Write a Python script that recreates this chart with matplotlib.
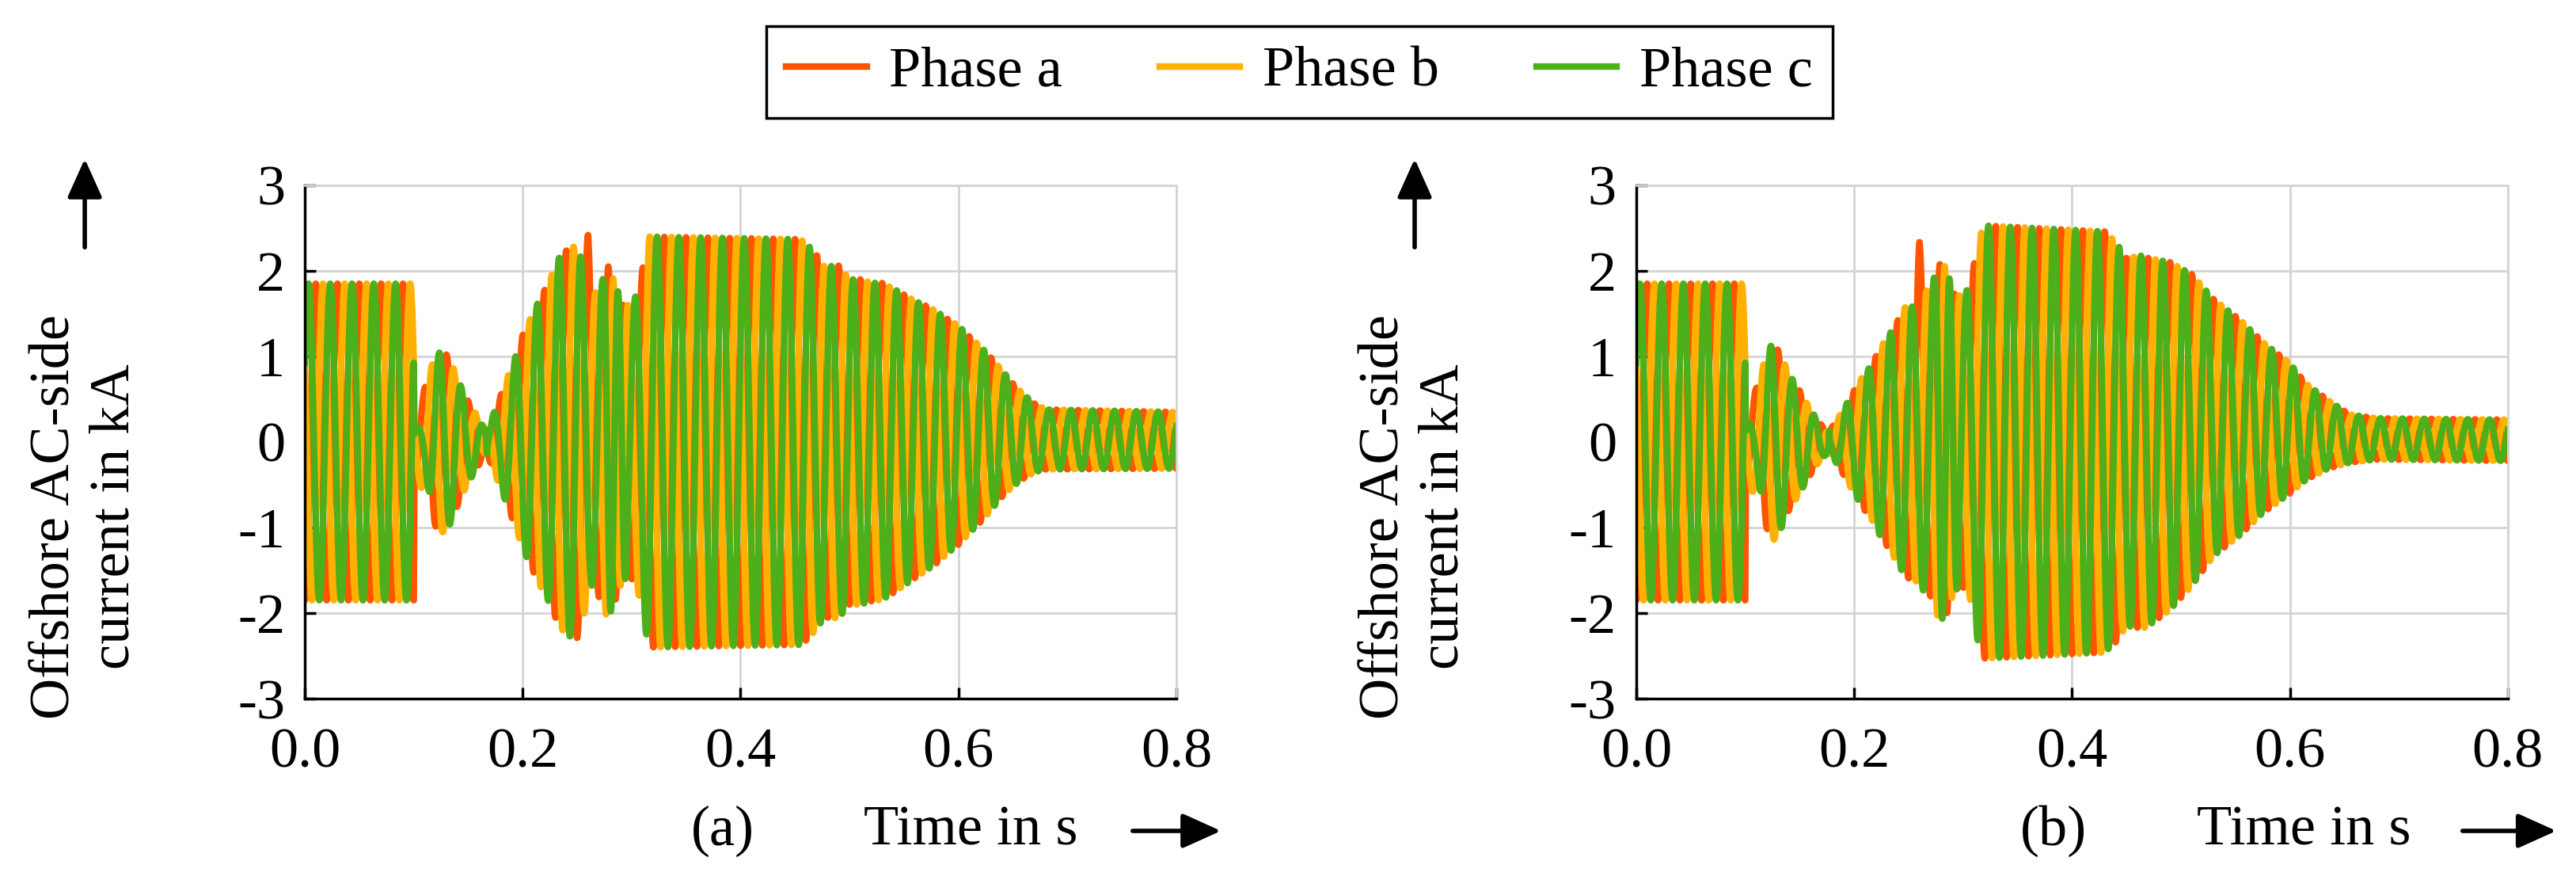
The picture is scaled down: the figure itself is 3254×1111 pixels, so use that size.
import numpy as np
import matplotlib
matplotlib.use("Agg")
import matplotlib.pyplot as plt

plt.rcParams['font.family'] = ['Liberation Serif', 'DejaVu Serif']
plt.rcParams['font.size'] = 52

F = 50.0  # grid frequency, Hz
labels = ['Phase a', 'Phase b', 'Phase c']
colors = ['#FF5500', '#FFB000', '#4DAF1A']
yticks = [3, 2, 1, 0, -1, -2, -3]
xticks = [0.0, 0.2, 0.4, 0.6, 0.8]

# envelope (peak amplitude in kA)
a_t = [0.0, 0.1, 0.1005, 0.108, 0.118, 0.125, 0.132, 0.14, 0.148, 0.156, 0.1665,
       0.177, 0.186, 0.195, 0.2, 0.214, 0.224, 0.234, 0.243, 0.25, 0.255, 0.262,
       0.272, 0.278, 0.285, 0.292, 0.3, 0.307, 0.311, 0.316, 0.455, 0.462, 0.47,
       0.477, 0.49, 0.5, 0.51, 0.52, 0.53, 0.54, 0.55, 0.56, 0.57, 0.58, 0.59,
       0.6, 0.61, 0.62, 0.63, 0.64, 0.65, 0.66, 0.67, 0.68, 0.8]
a_amp = [1.85, 1.85, 0.45, 0.55, 0.95, 1.07, 1.0, 0.75, 0.52, 0.35, 0.12,
         0.45, 0.75, 1.05, 1.25, 1.63, 1.87, 2.17, 2.27, 2.29, 2.1, 1.65,
         1.85, 2.07, 1.85, 1.6, 1.6, 1.8, 2.1, 2.4, 2.37, 2.3, 2.18,
         2.05, 2.06, 1.9, 1.9, 1.86, 1.85, 1.78, 1.7, 1.62, 1.55, 1.47, 1.37,
         1.28, 1.15, 1.03, 0.89, 0.74, 0.6, 0.49, 0.4, 0.35, 0.33]
a_ph_t = [0.0, 0.1665, 0.1675, 0.276, 0.296, 0.8]
a_ph_deg = [0, 0, 180, 180, 360, 360]
a_off_t = [0.0, 0.52, 0.56, 0.6, 0.64, 0.68, 0.8]
a_off = [0.0, 0.0, 0.03, 0.08, 0.1, 0.03, 0.02]
a_red_t = [0.253, 0.26, 0.266]
a_red = [0.0, 0.64, 0.0]
a_green_t = [0.1, 0.1005, 0.108, 0.116, 0.122]
a_green = [0.0, -0.3, -0.35, -0.15, 0.0]

# envelope
b_t = [0.0, 0.1, 0.1005, 0.11, 0.118, 0.125, 0.132, 0.14, 0.15, 0.158, 0.165,
       0.17, 0.1765, 0.184, 0.192, 0.2, 0.208, 0.216, 0.224, 0.232, 0.24, 0.248,
       0.254, 0.262, 0.27, 0.278, 0.284, 0.292, 0.3, 0.307, 0.313, 0.319, 0.43,
       0.44, 0.45, 0.465, 0.49, 0.51, 0.53, 0.555, 0.575, 0.6, 0.615, 0.635,
       0.655, 0.68, 0.8]
b_amp = [1.85, 1.85, 0.5, 0.62, 0.95, 1.17, 1.04, 0.8, 0.6, 0.42, 0.28,
         0.2, 0.12, 0.25, 0.42, 0.6, 0.77, 0.9, 1.1, 1.25, 1.42, 1.6,
         1.58, 1.72, 1.8, 2.08, 2.05, 1.73, 1.7, 1.85, 2.3, 2.53, 2.46,
         2.34, 2.15, 2.18, 2.03, 1.82, 1.5, 1.25, 1.0, 0.76, 0.56, 0.4,
         0.28, 0.24, 0.24]
b_ph_t = [0.0, 0.1765, 0.1775, 0.276, 0.296, 0.8]
b_ph_deg = [0, 0, 180, 180, 360, 360]
b_off_t = [0.0, 0.47, 0.51, 0.53, 0.575, 0.6, 0.615, 0.635, 0.655, 0.8]
b_off = [0.0, 0.0, 0.14, 0.17, 0.17, 0.16, 0.12, 0.09, 0.04, 0.02]
b_red_t = [0.253, 0.26, 0.266]
b_red = [0.0, 0.65, 0.0]
b_green_t = [0.1, 0.1005, 0.108, 0.116, 0.122]
b_green = [0.0, -0.3, -0.35, -0.15, 0.0]

t = np.linspace(0, 0.8, 8001)


def phases(env_t, env, ph_t, ph_deg, off_t, off, red_t, red, green_t, green):
    amp = np.interp(t, env_t, env)
    shift = np.deg2rad(np.interp(t, ph_t, ph_deg))
    dc = np.interp(t, off_t, off)
    w = 2 * np.pi * F * t + shift - np.pi / 2
    ia = (amp + np.interp(t, red_t, red, left=0, right=0)) * np.sin(w) + dc
    ib = amp * np.sin(w - 2 * np.pi / 3) + dc
    ic = (amp + np.interp(t, green_t, green, left=0, right=0)) * np.sin(w + 2 * np.pi / 3) + dc
    return [ia, ib, ic]


fig = plt.figure(figsize=(32.55, 11.11), dpi=100)
ax_a = fig.add_axes([0.1183, 0.2061, 0.3382, 0.5833])
ax_b = fig.add_axes([0.635, 0.2061, 0.3382, 0.5833])

panels = [
    (ax_a, phases(a_t, a_amp, a_ph_t, a_ph_deg, a_off_t, a_off, a_red_t, a_red, a_green_t, a_green), '(a)', 0.2805, 0.3767, 0.4387, 0.4747, 0.0329),
    (ax_b, phases(b_t, b_amp, b_ph_t, b_ph_deg, b_off_t, b_off, b_red_t, b_red, b_green_t, b_green), '(b)', 0.797, 0.894, 0.9548, 0.9929, 0.549),
]

for ax, sig, tag, tag_x, xl_x, ar0, ar1, yl_x in panels:
    for s, c, lab in zip(sig, colors, labels):
        ax.plot(t, s, color=c, lw=6, label=lab, solid_joinstyle='round')
    ax.set_xlim(0, 0.8)
    ax.set_ylim(-3, 3)
    ax.set_xticks(xticks)
    ax.set_xticklabels(['%.1f' % v for v in xticks])
    ax.set_yticks(yticks)
    ax.set_yticklabels([str(v) for v in yticks])
    ax.grid(True, color='#d4d4d4', lw=2)
    ax.set_axisbelow(True)
    for side in ['top', 'right']:
        ax.spines[side].set_color('#d4d4d4')
        ax.spines[side].set_linewidth(2)
    for side in ['left', 'bottom']:
        ax.spines[side].set_linewidth(2.5)
    ax.tick_params(axis='both', direction='in', length=10, width=2.5)
    ax.tick_params(axis='x', pad=26)
    ax.tick_params(axis='y', pad=18)

    fig.text(tag_x, 0.0558, tag, ha='center', va='center')
    fig.text(xl_x, 0.0558, 'Time in s', ha='center', va='center')
    fig.text(yl_x, 0.413, 'Offshore AC-side\ncurrent in kA', rotation=90,
             ha='center', va='center', multialignment='center')
    fig.patches.append(matplotlib.patches.FancyArrowPatch(
        (ar0, 0.0558), (ar1, 0.0558), transform=fig.transFigure,
        arrowstyle='-|>,head_width=0.45,head_length=1.0', mutation_scale=30,
        lw=4, color='black'))
    fig.patches.append(matplotlib.patches.FancyArrowPatch(
        (yl_x, 0.7165), (yl_x, 0.822), transform=fig.transFigure,
        arrowstyle='-|>,head_width=0.45,head_length=1.0', mutation_scale=30,
        lw=4, color='black'))

handles, labs = ax_a.get_legend_handles_labels()
leg = fig.legend(handles, labs, loc='center', bbox_to_anchor=(0.5043, 0.918), ncol=3,
                 frameon=True, fancybox=False, edgecolor='black', framealpha=1,
                 handlelength=1.4, handletextpad=0.4, columnspacing=1.7, borderpad=0.35)
leg.get_frame().set_linewidth(2.5)

fig.savefig('out.png', dpi=100)
